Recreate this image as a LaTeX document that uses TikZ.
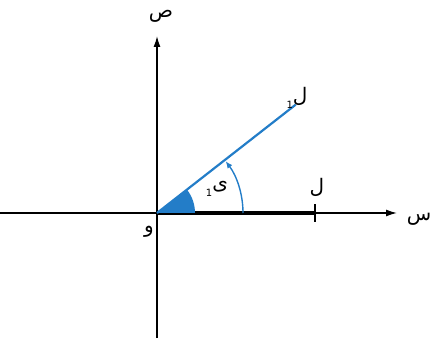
\documentclass[tikz,border=0pt]{standalone}
\usepackage{fontspec}
\setmainfont{DejaVu Sans}
\newfontfamily\arabicfont[Script=Arabic]{DejaVu Sans}
\TeXXeTstate=1
\usepackage{xcolor}
\usetikzlibrary{arrows.meta, calc}
\definecolor{rayblue}{RGB}{35,125,200}

\begin{document}
\begin{tikzpicture}[
	x=1pt, y=1pt,
	axis/.style={line width=1.4pt, -{Latex[length=11pt,width=7pt]}},
	lbl/.style={font=\arabicfont\fontsize{20}{20}\selectfont, inner sep=0pt},
	>=Latex
]
	\useasboundingbox (0,0) rectangle (435,342);
	\coordinate (O) at (157,129);
	\coordinate (xl) at (0,129);
	\coordinate (xr) at (397,129);
	\coordinate (yb) at (157,4);
	\coordinate (yt) at (157,306);
	\coordinate (L) at (315,129);
	\coordinate (L1) at ($(O)+(38:176)$);

	% axes
	\draw[axis] (xl) -- (xr);
	\draw[axis] (yb) -- (yt);
	\draw[line width=3.2pt] (O) -- (L);
	\draw[line width=1.4pt] (315,120) -- (315,138);

	% ray and angle
	\fill[rayblue] (O) -- ++(0:38) arc (0:38:38) -- cycle;
	\draw[rayblue, line width=2.2pt] (O) -- (L1);
	\draw[rayblue, line width=1.4pt, -{Latex[length=7pt,width=6pt]}] ($(O)+(0:86)$) arc (0:37:86);

	\node[lbl] (s) at (419,123) {\beginR س\endR};
	\node[lbl] (sad) at (161,326) {\beginR ص\endR};
	\node[lbl] (waw) at (149,110) {\beginR و\endR};
	\node[lbl] (lam) at (317,155) {\beginR ل\endR};
	\node[lbl] (lam1) at (297,244) {\beginR ل\raisebox{-0.6ex}{\fontsize{10}{10}\selectfont 1}\endR};
	\node[lbl] (ya1) at (217,153) {\beginR ى\raisebox{-0.6ex}{\fontsize{10}{10}\selectfont 1}\endR};
\end{tikzpicture}
\end{document}
